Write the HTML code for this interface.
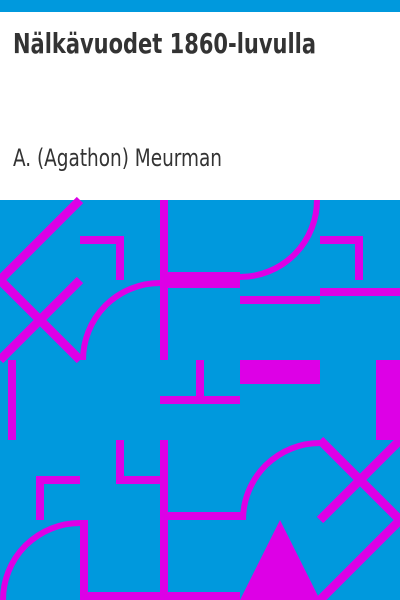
<!DOCTYPE html>
<html><head><meta charset="utf-8"><style>
html,body{margin:0;padding:0;background:#fff}
svg{display:block}
</style></head><body>
<svg width="400" height="600" viewBox="0 0 400 600" xmlns="http://www.w3.org/2000/svg">
<rect x="0" y="0" width="400" height="12" fill="#0099dd"/>
<text x="13" y="53" font-family="'DejaVu Sans Condensed','DejaVu Sans','Liberation Sans Narrow',sans-serif" font-weight="bold" font-size="28" fill="#333" textLength="303" lengthAdjust="spacingAndGlyphs">Nälkävuodet 1860-luvulla</text>
<text x="13" y="166" font-family="'DejaVu Sans Condensed','DejaVu Sans','Liberation Sans Narrow',sans-serif" font-size="24" fill="#333" textLength="209" lengthAdjust="spacingAndGlyphs">A. (Agathon) Meurman</text>
<g>
<rect x="0" y="200" width="400" height="400" fill="#0099dd"/>
<g fill="#dd00e6">
<rect x="80" y="236" width="44" height="8"/><rect x="116" y="236" width="8" height="44"/>
<rect x="160" y="200" width="8" height="160"/>
<rect x="160" y="272" width="80" height="16"/>
<rect x="320" y="236" width="43" height="8"/><rect x="355" y="236" width="8" height="44"/>
<rect x="240" y="296" width="80" height="8"/><rect x="320" y="288" width="80" height="8"/>
<rect x="8" y="360" width="8" height="80"/>
<rect x="196" y="360" width="8" height="40"/><rect x="160" y="396" width="80" height="8"/>
<rect x="240" y="360" width="80" height="24"/>
<rect x="376" y="360" width="24" height="80"/>
<rect x="116" y="440" width="8" height="44"/><rect x="116" y="476" width="44" height="8"/>
<rect x="160" y="440" width="8" height="160"/>
<rect x="36" y="476" width="44" height="8"/><rect x="36" y="476" width="8" height="44"/>
<rect x="80" y="520" width="8" height="80"/><rect x="80" y="592" width="160" height="8"/>
<rect x="168" y="512" width="78" height="8"/>
<polygon points="280,520 240,600 320,600"/>
</g>
<g fill="none" stroke="#dd00e6" stroke-width="6">
<path d="M317,200 A77,77 0 0 1 240,277"/>
<path d="M160,283 A77,77 0 0 0 83,360"/>
<path d="M80,523 A77,77 0 0 0 3,600"/>
<path d="M243,520 A77,77 0 0 1 320,443"/>
</g>
<g stroke="#dd00e6" stroke-width="9">
<line x1="80" y1="200" x2="0" y2="280"/>
<line x1="80" y1="280" x2="0" y2="360"/>
<line x1="0" y1="280" x2="80" y2="360"/>
<line x1="320" y1="440" x2="400" y2="520"/>
<line x1="400" y1="440" x2="320" y2="520"/>
<line x1="400" y1="520" x2="320" y2="600"/>
</g>
</g>
</svg>
</body></html>
